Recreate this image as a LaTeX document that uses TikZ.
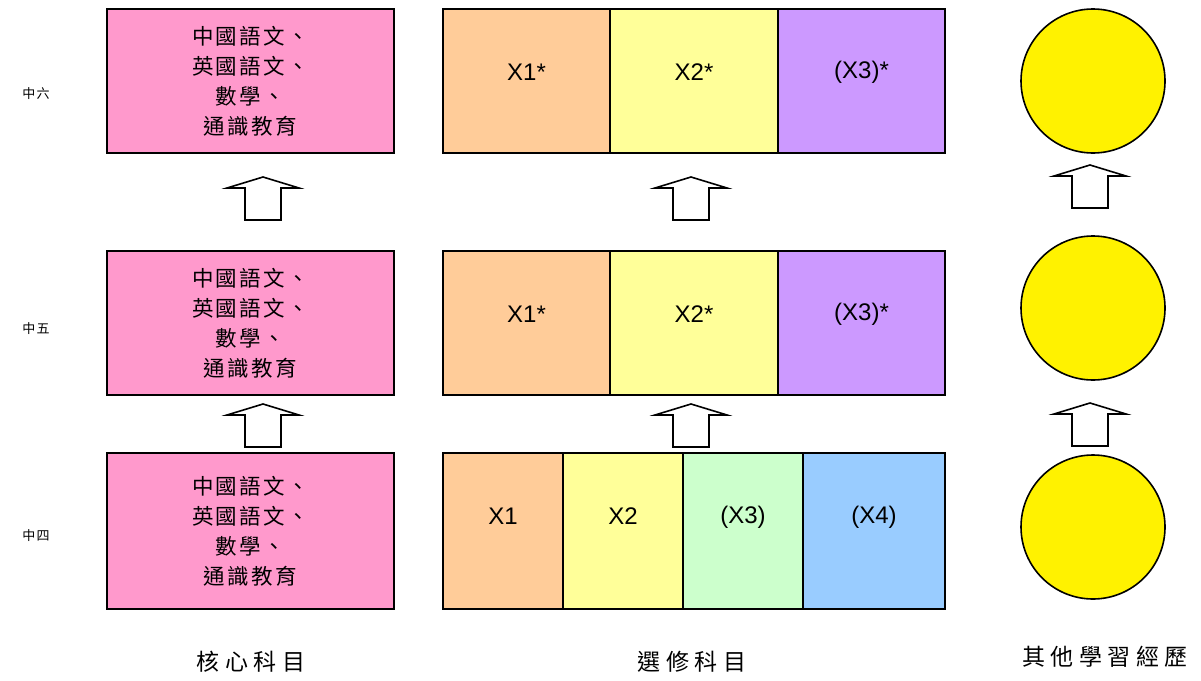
\documentclass[tikz,border=0pt]{standalone}
\usepackage{fontspec}
\setmainfont{Liberation Sans}
\newfontfamily\cjk[LetterSpace=11]{Noto Sans CJK TC}
\newfontfamily\cjkwide[LetterSpace=24]{Noto Sans CJK TC}
\definecolor{cpink}{HTML}{FF99CC}
\definecolor{corange}{HTML}{FFCC99}
\definecolor{cyellow}{HTML}{FFFF99}
\definecolor{cpurple}{HTML}{CC99FF}
\definecolor{cgreen}{HTML}{CCFFCC}
\definecolor{cblue}{HTML}{99CCFF}
\definecolor{csun}{HTML}{FFF200}
\tikzset{
  box/.style={draw=black, line width=1.4pt, inner sep=0pt, outer sep=0pt},
  core/.style={box, fill=cpink, minimum width=287pt, align=center,
     font=\cjk\fontsize{21.5}{30}\selectfont},
  cell/.style={box},
  celltext/.style={inner sep=0pt, font=\fontsize{24}{28}\selectfont},
  ball/.style={draw=black, line width=1.6pt, fill=csun, circle, minimum size=144pt, inner sep=0pt},
  side/.style={font=\cjk\fontsize{13}{15}\selectfont},
  foot/.style={font=\cjkwide\fontsize{23}{27}\selectfont},
  blockarrow/.style={draw=black, line width=1.6pt, fill=white, line join=miter},
  pics/uparr/.style={code={
    \draw[blockarrow] (-36,11) -- (0,0) -- (36,11) -- (18,11) -- (18,43)
      -- (-18,43) -- (-18,11) -- cycle;}}
}
\begin{document}
\begin{tikzpicture}[x=1pt,y=-1pt]
\useasboundingbox (0,0) rectangle (1201,680);
% core subjects
\node[core, minimum height=144pt] (c6) at (250.5,81) {中國語文、\\英國語文、\\數學、\\通識教育};
\node[core, minimum height=144pt] (c5) at (250.5,323) {中國語文、\\英國語文、\\數學、\\通識教育};
\node[core, minimum height=156pt] (c4) at (250.5,531) {中國語文、\\英國語文、\\數學、\\通識教育};
% electives S6
\node[cell, fill=corange, minimum width=167pt, minimum height=144pt] (e61) at (526.5,81) {};
\node[cell, fill=cyellow, minimum width=168pt, minimum height=144pt] (e62) at (694,81) {};
\node[cell, fill=cpurple, minimum width=167pt, minimum height=144pt] (e63) at (861.5,81) {};
\node[celltext] (t61) at (526.5,72) {X1*};
\node[celltext] (t62) at (694,72) {X2*};
\node[celltext] (t63) at (861.5,72) {(X3)*};
% electives S5
\node[cell, fill=corange, minimum width=167pt, minimum height=144pt] (e51) at (526.5,323) {};
\node[cell, fill=cyellow, minimum width=168pt, minimum height=144pt] (e52) at (694,323) {};
\node[cell, fill=cpurple, minimum width=167pt, minimum height=144pt] (e53) at (861.5,323) {};
\node[celltext] (t51) at (526.5,314) {X1*};
\node[celltext] (t52) at (694,314) {X2*};
\node[celltext] (t53) at (861.5,314) {(X3)*};
% electives S4
\node[cell, fill=corange, minimum width=120pt, minimum height=156pt] (e41) at (503,531) {};
\node[cell, fill=cyellow, minimum width=120pt, minimum height=156pt] (e42) at (623,531) {};
\node[cell, fill=cgreen, minimum width=120pt, minimum height=156pt] (e43) at (743,531) {};
\node[cell, fill=cblue, minimum width=142pt, minimum height=156pt] (e44) at (874,531) {};
\node[celltext] (t41) at (503,516) {X1};
\node[celltext] (t42) at (623,516) {X2};
\node[celltext] (t43) at (743,517) {(X3)};
\node[celltext] (t44) at (874,517) {(X4)};
% other learning experiences
\node[ball] (o6) at (1093,81) {};
\node[ball] (o5) at (1093,308) {};
\node[ball] (o4) at (1093,527) {};
% block arrows
\pic at (263,177) {uparr};
\pic at (263,404) {uparr};
\pic at (691,177) {uparr};
\pic at (691,404) {uparr};
\pic at (1090,165) {uparr};
\pic at (1090,403) {uparr};
% side labels
\node[side] (s6) at (36,94) {中六};
\node[side] (s5) at (36,329) {中五};
\node[side] (s4) at (36,536) {中四};
% footer labels
\node[foot] (f1) at (251,662) {核心科目};
\node[foot] (f2) at (692,662) {選修科目};
\node[foot] (f3) at (1105,657) {其他學習經歷};
\end{tikzpicture}
\end{document}
